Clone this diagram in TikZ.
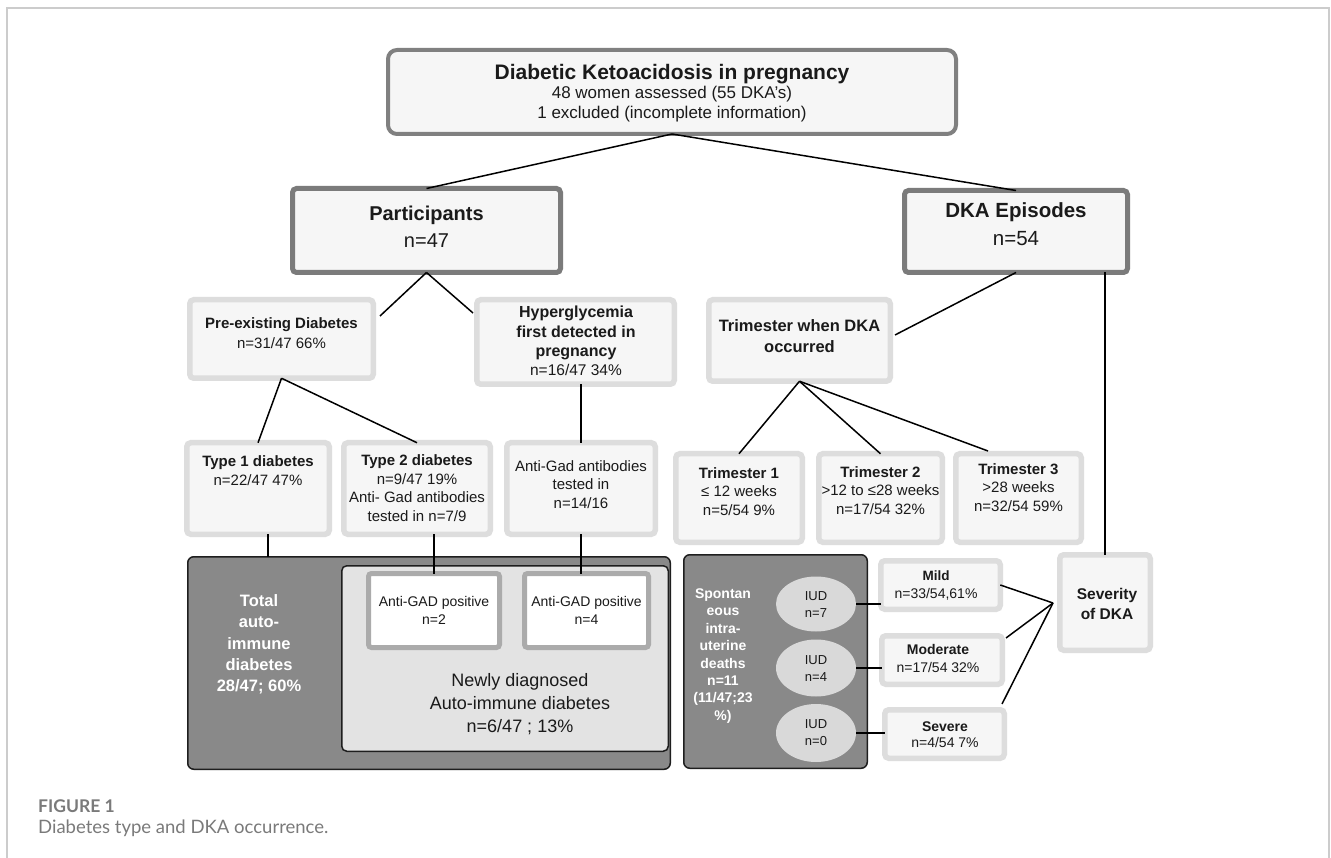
\documentclass[tikz,border=0pt]{standalone}
\usepackage{fontspec}
\setmainfont{Liberation Sans}
\newfontfamily\latofont{Lato}
\usetikzlibrary{shapes.geometric,calc}
\definecolor{txtc}{HTML}{1A1A1A}
\definecolor{framec}{HTML}{CCCCCC}
\definecolor{topdraw}{HTML}{808080}
\definecolor{maindraw}{HTML}{7B7B7B}
\definecolor{lightdraw}{HTML}{DDDDDD}
\definecolor{boxfill}{HTML}{F6F6F6}
\definecolor{gaddraw}{HTML}{ABABAB}
\definecolor{darkfill}{HTML}{898989}
\definecolor{innerfill}{HTML}{E3E3E3}
\definecolor{edgec}{HTML}{1E1E1E}
\definecolor{iudfill}{HTML}{D9D9D9}
\definecolor{capc}{HTML}{7A7A7A}
\newcommand\fsz[2]{\fontsize{#1}{#2}\selectfont}
\tikzset{
  bx/.style={rectangle, inner sep=0pt, outer sep=0pt},
  topbox/.style={bx, draw=topdraw, line width=4pt, fill=boxfill, rounded corners=9pt},
  mainbox/.style={bx, draw=maindraw, line width=5pt, fill=boxfill, rounded corners=4pt},
  lbox/.style={bx, draw=lightdraw, line width=5.5pt, fill=boxfill, rounded corners=4pt},
  gadbox/.style={bx, draw=gaddraw, line width=5pt, fill=white, rounded corners=3pt},
  darkbox/.style={bx, draw=edgec, line width=1.5pt, fill=darkfill, rounded corners=6pt},
  innerbox/.style={bx, draw=edgec, line width=1.5pt, fill=innerfill, rounded corners=5pt},
  iud/.style={ellipse, inner sep=0pt, outer sep=0pt, fill=iudfill},
  tx/.style={align=center, inner sep=0pt, text=txtc},
  wtx/.style={align=center, inner sep=0pt, text=white, font=\bfseries},
  conn/.style={draw=black, line width=1.5pt},
}
\begin{document}
\begin{tikzpicture}[x=1pt,y=-1pt]
\useasboundingbox (0,0) rectangle (1331,858);
\fill[white] (0,0) rectangle (1331,858);
% frame
\draw[framec, line width=1.2pt] (7,858) -- (7,8) -- (1329,8) -- (1329,858);

% ---------- boxes ----------
\node[topbox, minimum width=568, minimum height=84] (top) at (672,92) {};
\node[mainbox, minimum width=268, minimum height=84] (part) at (426.5,230.5) {};
\node[mainbox, minimum width=223, minimum height=82] (dka) at (1016,231.5) {};
\node[lbox, minimum width=183.5, minimum height=78.5] (pre) at (281.5,339) {};
\node[lbox, minimum width=197.5, minimum height=84.5] (hyp) at (575.5,342) {};
\node[lbox, minimum width=181.5, minimum height=81.5] (tw) at (799.5,340.5) {};
\node[lbox, minimum width=142.5, minimum height=91.5] (type1) at (258,488.5) {};
\node[lbox, minimum width=146.5, minimum height=91.5] (type2) at (417,488.5) {};
\node[lbox, minimum width=148.5, minimum height=91.5] (antigad) at (581,488.5) {};
\node[lbox, minimum width=126.5, minimum height=88.5] (t1) at (739,498) {};
\node[lbox, minimum width=123.5, minimum height=88.5] (t2) at (880.5,498) {};
\node[lbox, minimum width=125.5, minimum height=88.5] (t3) at (1018.5,498) {};
\node[darkbox, minimum width=482.5, minimum height=212.5] (total) at (429,663) {};
\node[innerbox, minimum width=326.5, minimum height=185.5] (newly) at (505,658.5) {};
\node[gadbox, minimum width=131, minimum height=74] (gad1) at (434,610.5) {};
\node[gadbox, minimum width=124, minimum height=74] (gad2) at (586.5,610.5) {};
\node[darkbox, minimum width=183.5, minimum height=213.5] (spont) at (775.5,661.5) {};
\node[iud, minimum width=80, minimum height=55] (iud7) at (816,604) {};
\node[iud, minimum width=80, minimum height=57] (iud4) at (816,668) {};
\node[iud, minimum width=80, minimum height=58] (iud0) at (816,733) {};
\node[lbox, minimum width=119.5, minimum height=48.5] (mild) at (940.5,585) {};
\node[lbox, minimum width=120.5, minimum height=48.5] (moder) at (942,660) {};
\node[lbox, minimum width=119.5, minimum height=48.5] (severe) at (944.5,734) {};
\node[lbox, minimum width=90.5, minimum height=95.5] (sev) at (1105,602.5) {};

% ---------- free ends ----------
\coordinate (preR) at (380,316);
\coordinate (hypL) at (473,313);
\coordinate (twR) at (895,335);
\coordinate (t3L) at (988,451);
\coordinate (conv) at (1053,603);
\coordinate (modR) at (1006,638);
\coordinate (sevR) at (1002,704);

% ---------- connectors ----------
\draw[conn] (top.south) -- (part.north);
\draw[conn] (top.south) -- (dka.north);
\draw[conn] (part.south) -- (preR);
\draw[conn] (part.south) -- (hypL);
\draw[conn] (dka.south) -- (twR);
\draw[conn] (sev.north |- dka.south) -- (sev.north);
\draw[conn] (pre.south) -- (type1.north);
\draw[conn] (pre.south) -- (type2.north);
\draw[conn] (antigad.north |- hyp.south) -- (antigad.north);
\draw[conn] (tw.south) -- (t1.north);
\draw[conn] (tw.south) -- (t2.north);
\draw[conn] (tw.south) -- (t3L);
\draw[conn] ([xshift=10pt]type1.south) -- ([xshift=10pt]type1.south |- total.north);
\draw[conn] (gad1.north |- type2.south) -- (gad1.north);
\draw[conn] (antigad.south) -- (antigad.south |- gad2.north);
\draw[conn] (iud7.east) -- (iud7.east -| mild.west);
\draw[conn] (iud4.east) -- (iud4.east -| moder.west);
\draw[conn] (iud0.east) -- (iud0.east -| severe.west);
\draw[conn] (mild.east) -- (conv);
\draw[conn] (modR) -- (conv);
\draw[conn] (sevR) -- (conv);

% ---------- texts ----------
\node[tx, font=\fsz{17}{19.5}] (topT) at (672,93)
  {{\fsz{21}{21}\bfseries Diabetic Ketoacidosis in pregnancy}\\48 women assessed (55 DKA's)\\1 excluded (incomplete information)};
\node[tx, font=\fsz{20}{27}] (partT) at (426.5,227)
  {{\bfseries Participants}\\n=47};
\node[tx, font=\fsz{20.5}{28}] (dkaT) at (1016,224)
  {{\bfseries DKA Episodes}\\n=54};
\node[tx, font=\fsz{15}{20}] (preT) at (281.5,333)
  {{\bfseries Pre-existing Diabetes}\\n=31/47 66\%};
\node[tx, font=\fsz{15.5}{19.4}] (hypT) at (576,341)
  {{\fsz{16}{19.4}\bfseries Hyperglycemia}\\{\fsz{16}{19.4}\bfseries first detected in}\\{\fsz{16}{19.4}\bfseries pregnancy}\\n=16/47 34\%};
\node[tx, font=\fsz{16.5}{21}\bfseries] (twT) at (799.5,336.5)
  {Trimester when DKA\\occurred};
\node[tx, font=\fsz{15}{18.7}] (type1T) at (258,470.5)
  {{\bfseries Type 1 diabetes}\\n=22/47 47\%};
\node[tx, font=\fsz{15}{18.7}] (type2T) at (417,488)
  {{\bfseries Type 2 diabetes}\\n=9/47 19\%\\Anti- Gad antibodies\\tested in n=7/9};
\node[tx, font=\fsz{15}{18.7}] (antigadT) at (581,484.5)
  {Anti-Gad antibodies\\tested in\\n=14/16};
\node[tx, font=\fsz{15}{18.7}] (t1T) at (739,491.5)
  {{\bfseries Trimester 1}\\≤ 12 weeks\\n=5/54 9\%};
\node[tx, font=\fsz{15}{18.7}] (t2T) at (880.5,490.5)
  {{\bfseries Trimester 2}\\>12 to ≤28 weeks\\n=17/54 32\%};
\node[tx, font=\fsz{15}{18.7}] (t3T) at (1018.5,487.5)
  {{\bfseries Trimester 3}\\>28 weeks\\n=32/54 59\%};
\node[wtx, font=\fsz{16.5}{21.3}\bfseries] (totalT) at (259,644.5)
  {Total\\auto-\\immune\\diabetes\\28/47; 60\%};
\node[tx, font=\fsz{14}{18}] (gad1T) at (434,610)
  {Anti-GAD positive\\n=2};
\node[tx, font=\fsz{14}{18}] (gad2T) at (586.5,610)
  {Anti-GAD positive\\n=4};
\node[tx, font=\fsz{18}{23}] (newlyT) at (520,704)
  {Newly diagnosed\\Auto-immune diabetes\\n=6/47 ; 13\%};
\node[wtx, font=\fsz{14}{17.4}\bfseries] (spontT) at (723,656)
  {Spontan\\eous\\intra-\\uterine\\deaths\\n=11\\(11/47;23\\\%)};
\node[tx, font=\fsz{13}{17}] (iud7T) at (816,604.5) {IUD\\n=7};
\node[tx, font=\fsz{13}{17}] (iud4T) at (816,669) {IUD\\n=4};
\node[tx, font=\fsz{13}{17}] (iud0T) at (816,733) {IUD\\n=0};
\node[tx, font=\fsz{14}{18}] (mildT) at (936,586)
  {{\fsz{13.5}{18}\bfseries Mild}\\n=33/54,61\%};
\node[tx, font=\fsz{14}{18}] (moderT) at (938,658.5)
  {{\bfseries Moderate}\\n=17/54 32\%};
\node[tx, font=\fsz{14}{16}] (severeT) at (945,735)
  {{\bfseries Severe}\\n=4/54 7\%};
\node[tx, font=\fsz{15.5}{20}\bfseries] (sevT) at (1107,604)
  {Severity\\of DKA};

% ---------- caption ----------
\node[anchor=west, inner sep=0pt, text=capc, font=\latofont\bfseries\fsz{17.5}{19}] (capA) at (38,806) {FIGURE 1};
\node[anchor=west, inner sep=0pt, text=capc, font=\latofont\fsz{18.5}{21}] (capB) at (38,828) {Diabetes type and DKA occurrence.};
\end{tikzpicture}
\end{document}
